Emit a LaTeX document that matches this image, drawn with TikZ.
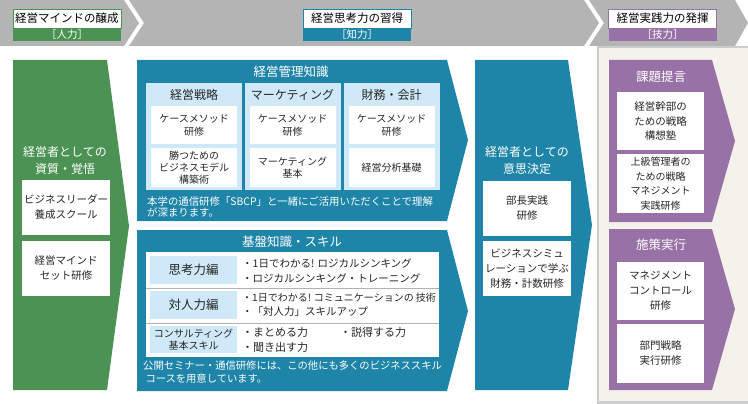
\documentclass[tikz,border=0pt]{standalone}
\usepackage{fontspec}
\setmainfont{Noto Sans CJK JP}
\usepackage{xcolor}
\usepackage{tikz}
\usetikzlibrary{calc}

\definecolor{mindgreen}{RGB}{75,146,84}
\definecolor{thinkblue}{RGB}{30,133,168}
\definecolor{actpurple}{RGB}{152,113,167}
\definecolor{bandgray}{RGB}{180,180,180}
\definecolor{paleblue}{RGB}{207,233,248}
\definecolor{cream}{RGB}{244,242,234}

\begin{document}
\begin{tikzpicture}[x=1pt,y=-1pt,
	hdrtop/.style={fill=white,inner sep=0pt,font=\fontsize{11.5}{13}\selectfont,minimum width=108,minimum height=19},
	hdrbot/.style={text=white,inner sep=0pt,font=\fontsize{10.5}{12}\selectfont,minimum width=108,minimum height=13},
	coltitle/.style={text=white,align=center,inner sep=0pt,font=\fontsize{12.5}{17}\selectfont},
	whitebox/.style={fill=white,inner sep=0pt,align=center,text=black!85,font=\fontsize{10.5}{15}\selectfont},
	knowbox/.style={fill=white,inner sep=0pt,align=center,text=black!85,font=\fontsize{10}{13}\selectfont,minimum width=86},
	subcol/.style={fill=paleblue,inner sep=0pt,minimum width=96,minimum height=107},
	rowlabel/.style={fill=paleblue,inner sep=0pt,align=center,minimum width=87,text=black!85},
	rowtext/.style={anchor=west,inner sep=0pt,text=black!85,font=\fontsize{10.5}{12}\selectfont},
	notetext/.style={anchor=north west,inner sep=0pt,align=left,text=white}]
\useasboundingbox (0,0) rectangle (748,404);

% header band
\fill[bandgray] (0,0) -- (124,0) -- (139,23) -- (124,46) -- (0,46) -- cycle;
\fill[bandgray] (129,0) -- (584,0) -- (599,23) -- (584,46) -- (129,46) -- (144,23) -- cycle;
\fill[bandgray] (589,0) -- (735,0) -- (748,23) -- (735,46) -- (589,46) -- (604,23) -- cycle;
\node[hdrtop,draw=mindgreen] (mindhead) at (67,18.5) {経営マインドの醸成};
\node[hdrbot,fill=mindgreen] (mindsub) at (67,34.5) {［人力］};
\node[hdrtop,draw=thinkblue] (thinkhead) at (357,18.5) {経営思考力の習得};
\node[hdrbot,fill=thinkblue] (thinksub) at (357,34.5) {［知力］};
\node[hdrtop,draw=actpurple] (acthead) at (662.5,18.5) {経営実践力の発揮};
\node[hdrbot,fill=actpurple] (actsub) at (662.5,34.5) {［技力］};

% left column
\fill[mindgreen] (13,60) -- (107,60) -- (129,226) -- (107,390) -- (13,390) -- cycle;
\node[coltitle,font=\fontsize{12}{17}\selectfont] (mindtitle) at (65,160) {経営者としての\\資質・覚悟};
\node[whitebox,minimum width=88,minimum height=55] (leader) at (66,207.5) {ビジネスリーダー\\養成スクール};
\node[whitebox,minimum width=88,minimum height=55] (mindset) at (66,268.5) {経営マインド\\セット研修};

% middle, upper panel
\fill[thinkblue] (137,60) -- (447,60) -- (468,140) -- (447,221) -- (137,221) -- cycle;
\node[coltitle] (mgmt) at (291,72) {経営管理知識};
\foreach \cx/\name/\head in {194/strat/経営戦略,292.5/mkt/マーケティング,391.5/fin/財務・会計}{
	\node[subcol] (\name col) at (\cx,136.5) {};
	\node[text=black!85,inner sep=0pt,font=\fontsize{12}{14}\selectfont] (\name head) at (\cx,95) {\head};
	\node[knowbox,minimum height=38] (\name case) at (\cx,125) {ケースメソッド\\研修};
}
\node[knowbox,minimum height=39,font=\fontsize{10}{12}\selectfont] (strat2) at (194,167.5) {勝つための\\ビジネスモデル\\構築術};
\node[knowbox,minimum height=39,font=\fontsize{10}{12}\selectfont] (mkt2) at (292.5,167.5) {マーケティング\\基本};
\node[knowbox,minimum height=39] (fin2) at (391.5,167.5) {経営分析基礎};
\node[notetext,font=\fontsize{10.4}{11}\selectfont] (sbcp) at (147,196.5) {本学の通信研修「SBCP」と一緒にご活用いただくことで理解\\が深まります。};

% middle, lower panel
\fill[thinkblue] (137,230) -- (447,230) -- (468,311) -- (447,391) -- (137,391) -- cycle;
\node[coltitle] (basics) at (292,242) {基盤知識・スキル};
\node[fill=white,inner sep=0pt,minimum width=293,minimum height=105] (table) at (292.5,304.5) {};
\draw[black!30] (146,288) -- (439,288);
\draw[black!30] (146,323) -- (439,323);
\node[rowlabel,minimum height=28,font=\fontsize{12.5}{14}\selectfont] (think) at (193.5,270) {思考力編};
\node[rowlabel,minimum height=28,font=\fontsize{12.5}{14}\selectfont] (people) at (193.5,305) {対人力編};
\node[rowlabel,minimum height=27,font=\fontsize{10}{12}\selectfont] (consult) at (193.5,339.5) {コンサルティング\\基本スキル};
\node[rowtext] (think1) at (242,263) {・1日でわかる! ロジカルシンキング};
\node[rowtext] (think2) at (242,278) {・ロジカルシンキング・トレーニング};
\node[rowtext,font=\fontsize{10}{12}\selectfont] (people1) at (242,298) {・1日でわかる! コミュニケーションの 技術};
\node[rowtext] (people2) at (242,312) {・「対人力」スキルアップ};
\node[rowtext,font=\fontsize{11}{13}\selectfont] (consult1) at (242,332) {・まとめる力};
\node[rowtext,font=\fontsize{11}{13}\selectfont] (consult2) at (340,332) {・説得する力};
\node[rowtext,font=\fontsize{11}{13}\selectfont] (consult3) at (242,347) {・聞き出す力};
\node[notetext,font=\fontsize{10.3}{13}\selectfont] (seminar) at (143,360.5) {公開セミナー・通信研修には、この他にも多くのビジネススキル\\\ コースを用意しています。};

% right blue column
\fill[thinkblue] (475,60) -- (568,60) -- (592,225) -- (568,390) -- (475,390) -- cycle;
\node[coltitle,font=\fontsize{12}{17}\selectfont] (decide) at (527,160) {経営者としての\\意思決定};
\node[whitebox,minimum width=88,minimum height=55] (bucho) at (527,208.5) {部長実践\\研修};
\node[whitebox,minimum width=88,minimum height=55] (simul) at (527,268.5) {ビジネスシミュ\\レーションで学ぶ\\財務・計数研修};

% purple area
\fill[black!20] (597,46) rectangle (752,404);
\fill[cream] (599,48) rectangle (752,401);
\fill[actpurple] (609,60) -- (712,60) -- (735,141) -- (712,222) -- (609,222) -- cycle;
\fill[actpurple] (609,229) -- (712,229) -- (735,309) -- (712,390) -- (609,390) -- cycle;
\node[coltitle] (issue) at (661,77) {課題提言};
\node[whitebox,minimum width=87,minimum height=58,font=\fontsize{10.5}{14.5}\selectfont] (exec) at (660.5,121) {経営幹部の\\ための戦略\\構想塾};
\node[whitebox,minimum width=87,minimum height=59,font=\fontsize{10}{14.5}\selectfont] (senior) at (660.5,183.5) {上級管理者の\\ための戦略\\マネジメント\\実践研修};
\node[coltitle] (measure) at (661,245) {施策実行};
\node[whitebox,minimum width=87,minimum height=58,font=\fontsize{10.5}{15}\selectfont] (control) at (660.5,291) {マネジメント\\コントロール\\研修};
\node[whitebox,minimum width=87,minimum height=59,font=\fontsize{10.5}{15}\selectfont] (dept) at (660.5,353.5) {部門戦略\\実行研修};

\end{tikzpicture}
\end{document}
